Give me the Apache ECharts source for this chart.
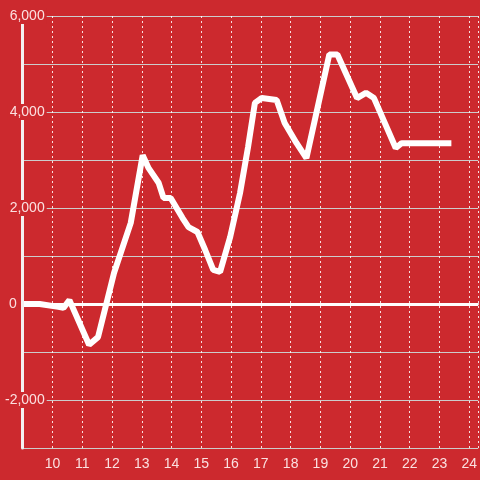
<!DOCTYPE html>
<html lang="en">
<head>
    <meta charset="UTF-8" />
    <title>Chart</title>
    <script src="https://cdn.jsdelivr.net/npm/echarts@6/dist/echarts.min.js"></script>
    <style>
        html, body { margin: 0; padding: 0; background: #cc292e; }
    </style>
</head>
<body>
    <div id="main" style="width: 480px; height: 480px"></div>
    <script>
        // hours (x) and values (y)
        var hours = [9.0, 9.57, 10.2, 10.37, 10.57, 11.23, 11.53, 12.07, 12.63, 13.03,
            13.23, 13.57, 13.73, 13.97, 14.37, 14.57, 14.87, 15.13, 15.4, 15.63,
            15.97, 16.3, 16.57, 16.8, 17.03, 17.53, 17.8, 18.2, 18.53, 19.3,
            19.57, 20.23, 20.53, 20.8, 21.53, 21.73, 23.4];
        var values = [0, 0, -60, -80, 80, -850, -690, 650, 1690, 3100,
            2830, 2520, 2210, 2210, 1790, 1600, 1500, 1125, 710, 670,
            1400, 2310, 3270, 4190, 4290, 4250, 3770, 3350, 3040, 5200,
            5200, 4290, 4400, 4290, 3250, 3350, 3350];

        var yMin = -3000, yMax = 6000, yStep = 1000;
        var xMin = 9, xMax = 24.3;

        var labelColor = "rgba(255,240,240,0.92)";
        var bg = "#cc292e";

        var mCharts = echarts.init(document.getElementById("main"));

        var option = {
            backgroundColor: bg,
            animation: false,
            grid: { left: 21, right: 0, top: 16, bottom: 32 },
            xAxis: {
                type: "value",
                min: xMin,
                max: xMax,
                interval: 1,
                axisLine: { show: true, lineStyle: { color: "#dddddd", width: 2 } },
                axisTick: { show: false },
                axisLabel: {
                    color: labelColor,
                    fontSize: 14,
                    margin: 9,
                    showMinLabel: false,
                    showMaxLabel: false,
                },
                splitLine: {
                    show: true,
                    lineStyle: { color: "rgba(255,255,255,0.85)", type: [2, 3], width: 1 },
                },
            },
            yAxis: [
                {
                    // grid lines only
                    type: "value",
                    min: yMin,
                    max: yMax,
                    interval: yStep,
                    axisLine: { show: false },
                    axisTick: { show: false },
                    axisLabel: { show: false },
                    splitLine: { show: true, lineStyle: { color: "#cccccc", width: 1 } },
                },
                {
                    // axis line + labels on top of grid lines
                    type: "value",
                    min: yMin,
                    max: yMax,
                    interval: yStep,
                    position: "left",
                    z: 5,
                    axisLine: { show: true, lineStyle: { color: "#f4f0f0", width: 3 } },
                    axisTick: { show: false },
                    splitLine: { show: false },
                    axisLabel: {
                        color: labelColor,
                        fontSize: 14,
                        margin: -24,
                        formatter: function (v) {
                            if (v === 0) return "{z|0}";
                            return v % 2000 === 0 ? "{n|" + v.toLocaleString("en-US") + "}" : "";
                        },
                        rich: {
                            n: { color: labelColor, fontSize: 14, backgroundColor: bg, padding: [1, 2, 1, 2] },
                            z: { color: labelColor, fontSize: 14, padding: [0, 30, 0, 0] },
                        },
                    },
                },
            ],
            series: [
                {
                    type: "line",
                    yAxisIndex: 0,
                    data: hours.map(function (h, i) { return [h, values[i]]; }),
                    showSymbol: false,
                    lineStyle: { color: "#ffffff", width: 6 },
                    markLine: {
                        silent: true,
                        symbol: "none",
                        label: { show: false },
                        lineStyle: { color: "#ffffff", width: 3, type: "solid" },
                        data: [{ yAxis: 0 }],
                    },
                },
            ],
        };

        mCharts.setOption(option);
    </script>
</body>
</html>
